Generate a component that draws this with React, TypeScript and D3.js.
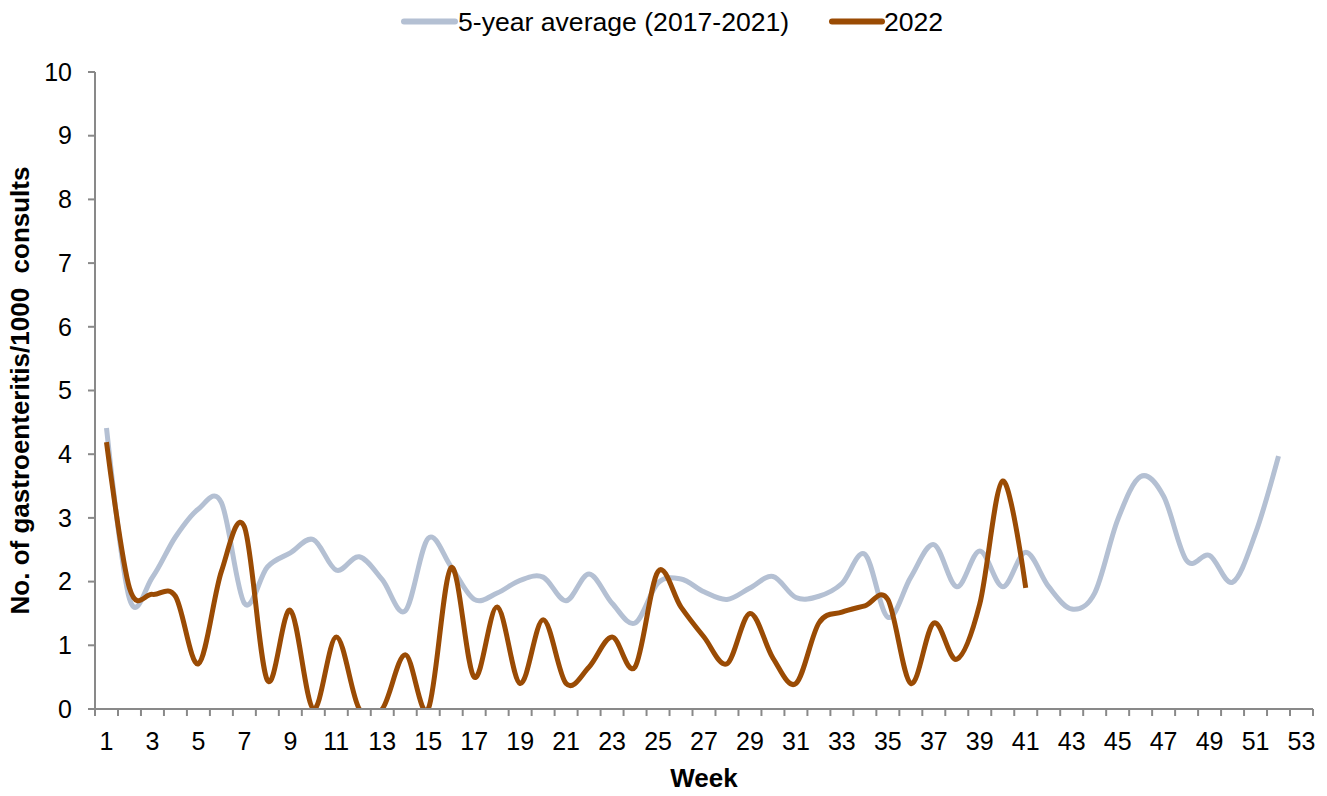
import React from "react";
import * as d3 from "d3";

const weeks: number[] = Array.from({ length: 53 }, (_, i) => i + 1);

const avgWeeks: number[] = weeks.slice(0, 52);
const avgValues: number[] = [
  4.41, 1.73, 2.07, 2.7, 3.14, 3.24, 1.66, 2.23, 2.45, 2.66,
  2.18, 2.39, 2.03, 1.54, 2.68, 2.23, 1.72, 1.82, 2.02, 2.07,
  1.7, 2.12, 1.66, 1.35, 1.98, 2.04, 1.84, 1.72, 1.9, 2.08,
  1.75, 1.77, 1.97, 2.43, 1.44, 2.07, 2.58, 1.92, 2.48, 1.92,
  2.46, 1.92, 1.57, 1.82, 2.97, 3.65, 3.34, 2.33, 2.41, 1.99,
  2.76, 3.97,
];

const y2022Weeks: number[] = weeks.slice(0, 41);
const y2022Values: number[] = [
  4.19, 1.9, 1.8, 1.77, 0.71, 2.16, 2.86, 0.45, 1.55, 0.0,
  1.13, 0.0, 0.0, 0.85, 0.0, 2.22, 0.5, 1.6, 0.4, 1.4,
  0.4, 0.66, 1.13, 0.66, 2.16, 1.6, 1.13, 0.71, 1.5, 0.8,
  0.4, 1.35, 1.52, 1.62, 1.72, 0.4, 1.35, 0.78, 1.65, 3.58,
  1.9,
];

const yTicks: number[] = [0, 1, 2, 3, 4, 5, 6, 7, 8, 9, 10];
const xTickLabels: number[] = weeks.filter((w) => w % 2 === 1);

const seriesNames = ["5-year average (2017-2021)", "2022"];
const seriesColors = ["#B4C0D3", "#9A4B04"];

export default function App() {
  const W = 1327;
  const H = 796;
  const left = 95;
  const right = 1313;
  const top = 72;
  const bottom = 709;

  const x = d3.scaleLinear().domain([0.5, 53.5]).range([left, right]);
  const y = d3.scaleLinear().domain([0, 10]).range([bottom, top]);

  const line = d3
    .line<[number, number]>()
    .x((d) => x(d[0]))
    .y((d) => y(d[1]))
    .curve(d3.curveCardinal.tension(0));

  const avgPath = line(avgWeeks.map((w, i) => [w, avgValues[i]])) || "";
  const p2022 = line(y2022Weeks.map((w, i) => [w, y2022Values[i]])) || "";

  const axisColor = "#898989";
  const font = "'Liberation Sans', Arial, sans-serif";
  const edges = d3.range(0, 54).map((k) => k + 0.5);

  return (
    <svg
      width={W}
      height={H}
      style={{ position: "absolute", left: 0, top: 0, background: "#fff" }}
      fontFamily={font}
    >
      <defs>
        <clipPath id="plotClip">
          <rect x={left} y={top} width={right - left} height={bottom - top} />
        </clipPath>
      </defs>

      {/* Legend */}
      <g>
        <line x1={404} x2={455} y1={21.5} y2={21.5} stroke={seriesColors[0]} strokeWidth={6} strokeLinecap="round" />
        <text x={458} y={31} fontSize={26.6} fill="#000">{seriesNames[0]}</text>
        <line x1={832} x2={882} y1={21.5} y2={21.5} stroke={seriesColors[1]} strokeWidth={6} strokeLinecap="round" />
        <text x={884} y={31} fontSize={26.6} fill="#000">{seriesNames[1]}</text>
      </g>

      {/* Lines */}
      <g clipPath="url(#plotClip)">
        <path d={avgPath} fill="none" stroke={seriesColors[0]} strokeWidth={5} strokeLinejoin="round" />
        <path d={p2022} fill="none" stroke={seriesColors[1]} strokeWidth={5} strokeLinejoin="round" />
      </g>

      {/* Y axis */}
      <line x1={left} x2={left} y1={top} y2={bottom} stroke={axisColor} strokeWidth={2} />
      {yTicks.map((t) => (
        <g key={t}>
          <line x1={left - 7} x2={left} y1={y(t)} y2={y(t)} stroke={axisColor} strokeWidth={2} />
          <text x={72} y={y(t)} dy="0.35em" textAnchor="end" fontSize={25} fill="#000">
            {t}
          </text>
        </g>
      ))}

      {/* X axis */}
      <line x1={left} x2={right} y1={bottom} y2={bottom} stroke={axisColor} strokeWidth={2} />
      {edges.map((e) => (
        <line key={e} x1={x(e)} x2={x(e)} y1={bottom} y2={bottom + 7} stroke={axisColor} strokeWidth={2} />
      ))}
      {xTickLabels.map((w) => (
        <text key={w} x={x(w)} y={750} textAnchor="middle" fontSize={25} fill="#000">
          {w}
        </text>
      ))}

      {/* Axis titles */}
      <text x={(left + right) / 2} y={787} textAnchor="middle" fontSize={26} fontWeight="bold" fill="#000">
        Week
      </text>
      <text
        transform={`translate(29, ${(top + bottom) / 2}) rotate(-90)`}
        textAnchor="middle"
        fontSize={26}
        fontWeight="bold"
        fill="#000"
        style={{ whiteSpace: "pre" }}
      >
        {"No. of gastroenteritis/1000  consults"}
      </text>
    </svg>
  );
}
